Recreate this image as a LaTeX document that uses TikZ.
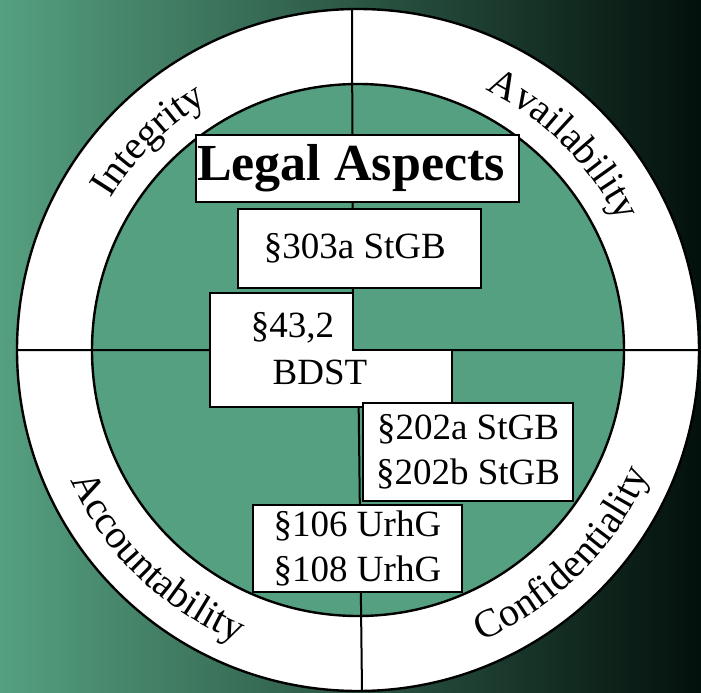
\documentclass[tikz,border=0pt]{standalone}
\usepackage{fontspec}
\setmainfont{Liberation Serif}
\usepackage{tikz}
\usetikzlibrary{decorations.text}
\pgfdeclarelayer{bg}
\pgfsetlayers{bg,main}
\definecolor{leaf}{RGB}{85,160,128}
\definecolor{night}{RGB}{3,16,11}

\tikzset{
  law/.style={draw, fill=white, line width=1.2pt, inner sep=0pt, align=center,
    font=\fontsize{18.5}{22.5}\selectfont},
  ring/.style={decorate, decoration={text along path, text align=center,
    text={|\fontsize{20}{20}\selectfont|#1}}}
}

\begin{document}
\begin{tikzpicture}[x=0.5pt, y=0.5pt]
    \useasboundingbox (0,0) rectangle (701,692);
    \coordinate (c) at (358,342);
    \coordinate (n) at (352,683);
    \coordinate (m) at (353,342);
    \coordinate (s) at (362,1);
    \coordinate (w) at (17,342);
    \coordinate (e) at (699,342);

    \begin{pgfonlayer}{bg}    % disc and quadrants behind the boxes
        \shade [left color=leaf, right color=night] (0,0) rectangle (701,692);
        \draw [line width=1.2pt, fill=white] (c) circle [radius=341];
        \draw [line width=1.2pt, fill=leaf] (c) circle [radius=266];
        \draw [line width=1pt] (w) -- (e) (n) -- (m) (c) -- (s);
    \end{pgfonlayer}

    \path [ring=Integrity] (c) ++(165:290) arc [start angle=165, end angle=105, radius=290];
    \path [ring=Availability] (c) ++(75:290) arc [start angle=75, end angle=15, radius=290];
    \path [ring=Accountability] (c) ++(186:316) arc [start angle=186, end angle=266, radius=316];
    \path [ring=Confidentiality] (c) ++(-85:316) arc [start angle=-85, end angle=-5, radius=316];

    \node [law, font=\fontsize{26}{30}\selectfont\bfseries, minimum width=161.5pt, minimum height=33.5pt] (legal) at (357.5,523.5) { Legal Aspects };
    \node [law, minimum width=121.5pt, minimum height=39.5pt] (s303a) at (359.5,443.5) { §303a StGB };
    \draw [fill=white, line width=1.2pt] (210,399) -- (353,399) -- (353,342) -- (452,342) -- (452,285) -- (210,285) -- cycle;
    \node [font=\fontsize{18.5}{22.5}\selectfont] (s43) at (292.5,364) { §43,2 };
    \node [font=\fontsize{18.5}{22.5}\selectfont] (bdst) at (320,320) { BDST };
    \node [law, minimum width=105pt, minimum height=49pt] (s202) at (468,240) { §202a StGB \\ §202b StGB };
    \node [law, minimum width=104.5pt, minimum height=43.5pt] (s106) at (357.5,143.5) { §106 UrhG \\ §108 UrhG };
  \end{tikzpicture}
\end{document}
